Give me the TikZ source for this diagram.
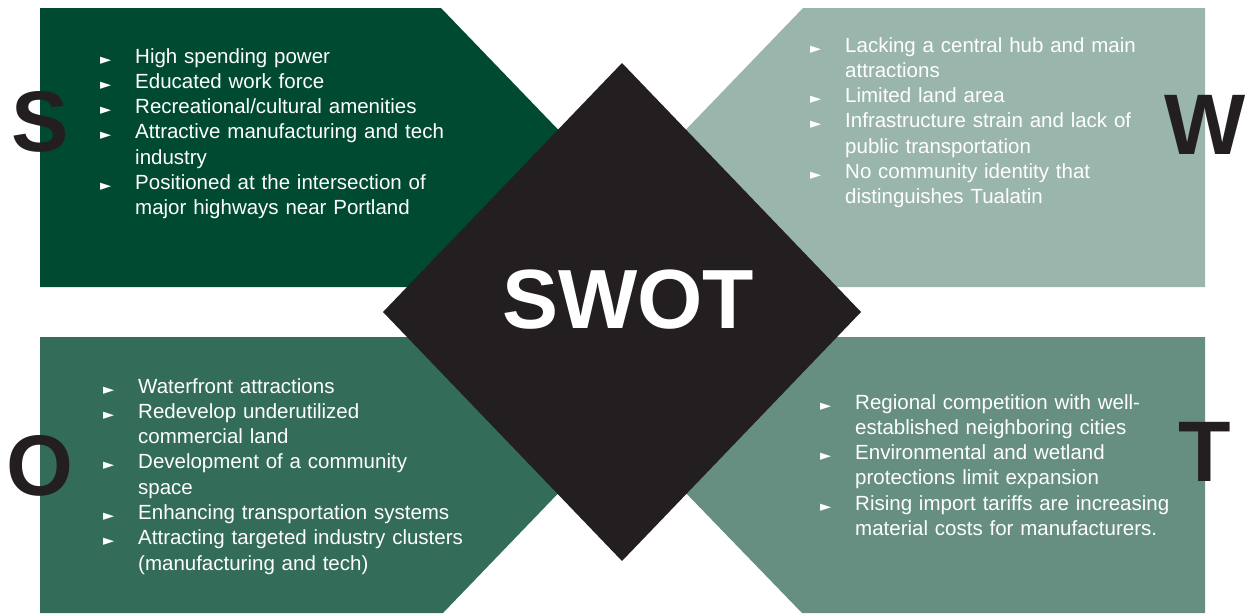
\documentclass[tikz,border=0pt]{standalone}
\usepackage{fontspec}
\setmainfont{Liberation Sans}
\newfontfamily\symfont{DejaVu Sans}
\definecolor{cS}{HTML}{004A32}
\definecolor{cW}{HTML}{9AB5AB}
\definecolor{cO}{HTML}{346C5A}
\definecolor{cT}{HTML}{668F82}
\definecolor{ink}{HTML}{231F20}
\newcommand{\bl}{\leavevmode\llap{\raisebox{-1pt}{\symfont\fontsize{14.5}{14.5}\selectfont ►}\hspace{24pt}}}
\begin{document}
\begin{tikzpicture}[x=1pt,y=-1pt,
  items/.style={text=white, font=\fontsize{20.5}{25.3}\selectfont, align=left, anchor=base west, inner sep=0pt, text width=420pt},
  letter/.style={text=ink, font=\fontsize{86}{86}\selectfont\bfseries, inner sep=0pt}]
\useasboundingbox (0,0) rectangle (1249,613);
\fill[cS] (40,8) -- (441,8) -- (622,196) -- (622,287) -- (40,287) -- cycle;
\fill[cW] (803,8) -- (1205,8) -- (1205,287) -- (622,287) -- (622,196) -- cycle;
\fill[cO] (40,337) -- (622,337) -- (622,427) -- (443,613) -- (40,613) -- cycle;
\fill[cT] (622,337) -- (1205,337) -- (1205,613) -- (802,613) -- (622,427) -- cycle;
\fill[ink] (622,63) -- (861,312) -- (622,561) -- (383,312) -- cycle;
\node[text=white, font=\fontsize{84}{84}\selectfont\bfseries, inner sep=0pt] (swot) at (628,300) {SWOT};
\node[letter] (s) at (40,122) {S};
\node[letter] (w) at (1205,125) {W};
\node[letter] (o) at (40,466) {O};
\node[letter] (t) at (1205,452) {T};
\node[items] (sitems) at (135,63) {\bl High spending power\\
\bl Educated work force\\
\bl Recreational/cultural amenities\\
\bl Attractive manufacturing and tech\\
industry\\
\bl Positioned at the intersection of\\
major highways near Portland};
\node[items] (witems) at (845,52) {\bl Lacking a central hub and main\\
attractions\\
\bl Limited land area\\
\bl Infrastructure strain and lack of\\
public transportation\\
\bl No community identity that\\
distinguishes Tualatin};
\node[items] (oitems) at (138,393) {\bl Waterfront attractions\\
\bl Redevelop underutilized\\
commercial land\\
\bl Development of a community\\
space\\
\bl Enhancing transportation systems\\
\bl Attracting targeted industry clusters\\
(manufacturing and tech)};
\node[items] (titems) at (855,409) {\bl Regional competition with well-\\
established neighboring cities\\
\bl Environmental and wetland\\
protections limit expansion\\
\bl Rising import tariffs are increasing\\
material costs for manufacturers.};
\end{tikzpicture}
\end{document}
